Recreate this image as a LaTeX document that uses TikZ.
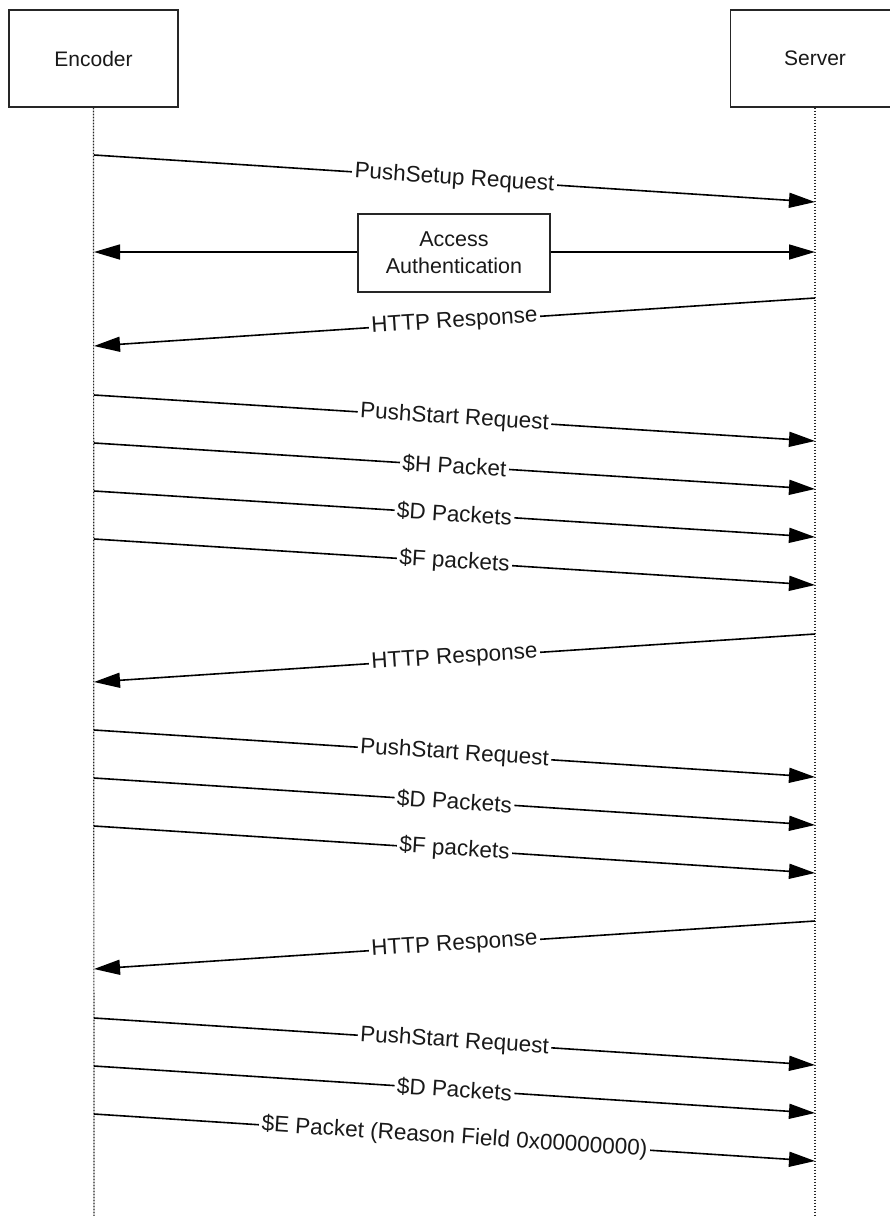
\documentclass[tikz,border=0pt]{standalone}
\usepackage{fontspec}
\setmainfont{Liberation Sans}
\usetikzlibrary{arrows.meta}
\begin{document}
\begin{tikzpicture}[x=1pt,y=-1pt,
  actor/.style={draw=black!85,line width=1.4pt,minimum width=169pt,minimum height=97pt,inner sep=0pt,font=\fontsize{21}{25}\selectfont,text=black!90},
  life/.style={black!85,line width=1.2pt,dash pattern=on 1.6pt off 1.4pt},
  msg/.style={black,line width=1.6pt,-{Triangle[length=26pt,width=15pt]}},
  lbl/.style={fill=white,inner sep=2.5pt,sloped,font=\fontsize{22.5}{26}\selectfont,text=black!90},
  authbox/.style={draw=black!85,line width=1.4pt,minimum width=192pt,minimum height=78pt,align=center,inner sep=0pt,font=\fontsize{21.5}{27}\selectfont,text=black!90}
]
\useasboundingbox (0,0) rectangle (890,1216);
\fill[white] (0,0) rectangle (890,1216);

\node[actor] (enc) at (93.5,58.5) {Encoder};
\node[actor] (srv) at (815,58.5) {Server};
\coordinate (encend) at (94,1216);
\coordinate (srvend) at (815,1216);
\draw[life] (enc.south) -- (encend);
\draw[life] (srv.south) -- (srvend);

% 1 PushSetup
\coordinate (e1) at (94,155); \coordinate (s1) at (815,202);
\draw[msg] (e1) -- node[lbl]{PushSetup Request} (s1);

% 2 Access Authentication
\node[authbox] (auth) at (454,253) {Access\\Authentication};
\coordinate (e2) at (94,252); \coordinate (s2) at (815,252);
\draw[msg] (auth.west |- e2) -- (e2);
\draw[msg] (auth.east |- s2) -- (s2);

% 3 HTTP Response
\coordinate (s3) at (815,298); \coordinate (e3) at (94,346);
\draw[msg] (s3) -- node[lbl]{HTTP Response} (e3);

% 4-7
\coordinate (e4) at (94,395); \coordinate (s4) at (815,441);
\draw[msg] (e4) -- node[lbl]{PushStart Request} (s4);
\coordinate (e5) at (94,443); \coordinate (s5) at (815,489);
\draw[msg] (e5) -- node[lbl]{\$H Packet} (s5);
\coordinate (e6) at (94,491); \coordinate (s6) at (815,537);
\draw[msg] (e6) -- node[lbl]{\$D Packets} (s6);
\coordinate (e7) at (94,539); \coordinate (s7) at (815,585);
\draw[msg] (e7) -- node[lbl]{\$F packets} (s7);

% 8 HTTP Response
\coordinate (s8) at (815,634); \coordinate (e8) at (94,682);
\draw[msg] (s8) -- node[lbl]{HTTP Response} (e8);

% 9-11
\coordinate (e9) at (94,730); \coordinate (s9) at (815,777);
\draw[msg] (e9) -- node[lbl]{PushStart Request} (s9);
\coordinate (e10) at (94,778); \coordinate (s10) at (815,825);
\draw[msg] (e10) -- node[lbl]{\$D Packets} (s10);
\coordinate (e11) at (94,826); \coordinate (s11) at (815,873);
\draw[msg] (e11) -- node[lbl]{\$F packets} (s11);

% 12 HTTP Response
\coordinate (s12) at (815,921); \coordinate (e12) at (94,969);
\draw[msg] (s12) -- node[lbl]{HTTP Response} (e12);

% 13-15
\coordinate (e13) at (94,1018); \coordinate (s13) at (815,1065);
\draw[msg] (e13) -- node[lbl]{PushStart Request} (s13);
\coordinate (e14) at (94,1066); \coordinate (s14) at (815,1113);
\draw[msg] (e14) -- node[lbl]{\$D Packets} (s14);
\coordinate (e15) at (94,1114); \coordinate (s15) at (815,1161);
\draw[msg] (e15) -- node[lbl]{\$E Packet (Reason Field 0x00000000)} (s15);
\end{tikzpicture}
\end{document}
